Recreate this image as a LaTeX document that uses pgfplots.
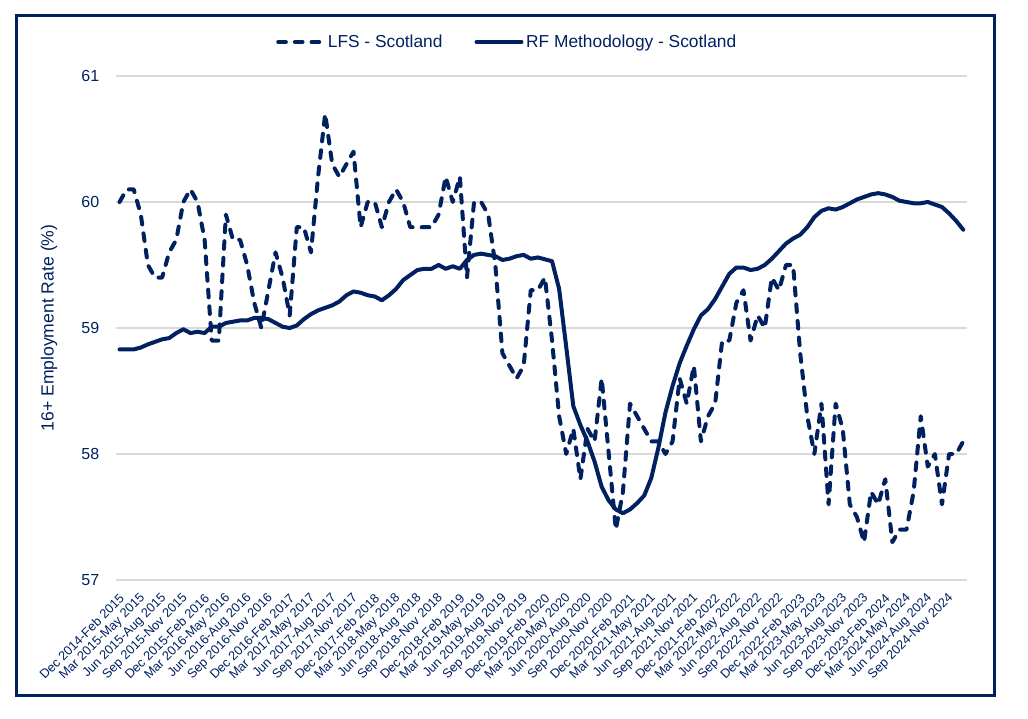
\documentclass[border=0pt]{standalone}
\usepackage{pgfplots}
\pgfplotsset{compat=1.18}
\usepackage{pgfplotstable}
\usepackage{fontspec}
\setmainfont{Liberation Sans}
\definecolor{navy}{HTML}{002060}
\definecolor{gridgray}{HTML}{D9D9D9}

\pgfplotstableread{
i lfs rf
0 60.0 58.83
1 60.1 58.83
2 60.1 58.83
3 59.9 58.845
4 59.5 58.87
5 59.4 58.89
6 59.4 58.91
7 59.6 58.92
8 59.7 58.96
9 60.0 58.99
10 60.1 58.96
11 60.0 58.97
12 59.7 58.96
13 58.9 59.01
14 58.9 59.01
15 59.9 59.04
16 59.7 59.05
17 59.7 59.06
18 59.5 59.06
19 59.2 59.08
20 59.0 59.08
21 59.3 59.07
22 59.6 59.04
23 59.4 59.01
24 59.1 59.00
25 59.8 59.02
26 59.8 59.07
27 59.6 59.11
28 60.2 59.14
29 60.7 59.16
30 60.3 59.18
31 60.2 59.21
32 60.3 59.26
33 60.4 59.29
34 59.8 59.28
35 60.0 59.26
36 60.0 59.25
37 59.8 59.22
38 60.0 59.26
39 60.1 59.31
40 60.0 59.38
41 59.8 59.42
42 59.8 59.46
43 59.8 59.47
44 59.8 59.47
45 59.9 59.50
46 60.2 59.47
47 60.0 59.49
48 60.2 59.47
49 59.4 59.54
50 60.0 59.58
51 60.0 59.59
52 59.9 59.58
53 59.5 59.57
54 58.8 59.54
55 58.7 59.55
56 58.6 59.57
57 58.7 59.58
58 59.3 59.55
59 59.3 59.56
60 59.4 59.545
61 58.9 59.53
62 58.3 59.31
63 58.0 58.85
64 58.2 58.38
65 57.8 58.23
66 58.2 58.10
67 58.1 57.94
68 58.6 57.74
69 58.0 57.63
70 57.4 57.56
71 57.7 57.53
72 58.4 57.56
73 58.3 57.61
74 58.2 57.67
75 58.1 57.81
76 58.1 58.05
77 58.0 58.33
78 58.1 58.54
79 58.6 58.72
80 58.4 58.86
81 58.7 58.99
82 58.1 59.10
83 58.3 59.15
84 58.4 59.23
85 58.9 59.33
86 58.9 59.43
87 59.2 59.48
88 59.3 59.48
89 58.9 59.46
90 59.1 59.47
91 59.0 59.50
92 59.4 59.55
93 59.3 59.61
94 59.5 59.67
95 59.5 59.71
96 58.8 59.74
97 58.3 59.80
98 58.0 59.88
99 58.4 59.93
100 57.6 59.95
101 58.4 59.94
102 58.2 59.96
103 57.6 59.99
104 57.5 60.02
105 57.3 60.04
106 57.7 60.06
107 57.6 60.07
108 57.8 60.06
109 57.3 60.04
110 57.4 60.01
111 57.4 60.00
112 57.7 59.99
113 58.3 59.99
114 57.9 60.00
115 58.0 59.98
116 57.6 59.96
117 58.0 59.91
118 58.0 59.85
119 58.1 59.78
}\datatable

\begin{document}
\begin{tikzpicture}
\useasboundingbox (0pt,0pt) rectangle (771pt,538.5pt);
\draw[navy, line width=2.25pt] (12pt,17.25pt) rectangle (745.5pt,526.5pt);
\begin{axis}[
  at={(87pt,103.5pt)}, anchor=south west,
  scale only axis,
  width=638.1pt, height=378pt,
  xmin=-0.5, xmax=119.5,
  ymin=57, ymax=61,
  ytick={57,58,59,60,61},
  xtick={0,3,...,117},
  xticklabels={
    {Dec 2014-Feb 2015},{Mar 2015-May 2015},{Jun 2015-Aug 2015},{Sep 2015-Nov 2015},
    {Dec 2015-Feb 2016},{Mar 2016-May 2016},{Jun 2016-Aug 2016},{Sep 2016-Nov 2016},
    {Dec 2016-Feb 2017},{Mar 2017-May 2017},{Jun 2017-Aug 2017},{Sep 2017-Nov 2017},
    {Dec 2017-Feb 2018},{Mar 2018-May 2018},{Jun 2018-Aug 2018},{Sep 2018-Nov 2018},
    {Dec 2018-Feb 2019},{Mar 2019-May 2019},{Jun 2019-Aug 2019},{Sep 2019-Nov 2019},
    {Dec 2019-Feb 2020},{Mar 2020-May 2020},{Jun 2020-Aug 2020},{Sep 2020-Nov 2020},
    {Dec 2020-Feb 2021},{Mar 2021-May 2021},{Jun 2021-Aug 2021},{Sep 2021-Nov 2021},
    {Dec 2021-Feb 2022},{Mar 2022-May 2022},{Jun 2022-Aug 2022},{Sep 2022-Nov 2022},
    {Dec 2022-Feb 2023},{Mar 2023-May 2023},{Jun 2023-Aug 2023},{Sep 2023-Nov 2023},
    {Dec 2023-Feb 2024},{Mar 2024-May 2024},{Jun 2024-Aug 2024},{Sep 2024-Nov 2024}},
  xticklabel style={xshift=2.5pt, yshift=-11.6pt, rotate=45, anchor=east, font=\fontsize{9.6}{11}\selectfont, text=navy, inner sep=1pt},
  yticklabel style={font=\fontsize{12}{14}\selectfont, text=navy, xshift=-9pt},
  /pgf/number format/assume math mode=true,
  major tick length=0pt,
  axis line style={draw=none},
  ymajorgrids,
  grid style={gridgray, line width=0.9pt},
  ylabel={16+ Employment Rate (\%)},
  ylabel style={at={(axis description cs:-0.0788,0.5)}, anchor=center, font=\fontsize{13.2}{15}\selectfont, text=navy},
  legend style={at={(axis description cs:0.4602,1.0675)}, anchor=center, draw=none, fill=none,
    legend columns=2, font=\fontsize{13}{15}\selectfont, text=navy,
    /tikz/every even column/.append style={column sep=22pt}},
  legend image code/.code={\draw[#1] (0pt,0pt) -- (33.75pt,0pt);},
  clip=false,
]
\addplot[navy, line width=3pt, dash pattern=on 5.75pt off 6.75pt, line cap=round, line join=round] table[x=i, y=lfs]{\datatable};
\addlegendentry{LFS - Scotland}
\addplot[navy, line width=3pt, line join=round, line cap=round] table[x=i, y=rf]{\datatable};
\addlegendentry{RF Methodology - Scotland}
\end{axis}
\end{tikzpicture}
\end{document}
